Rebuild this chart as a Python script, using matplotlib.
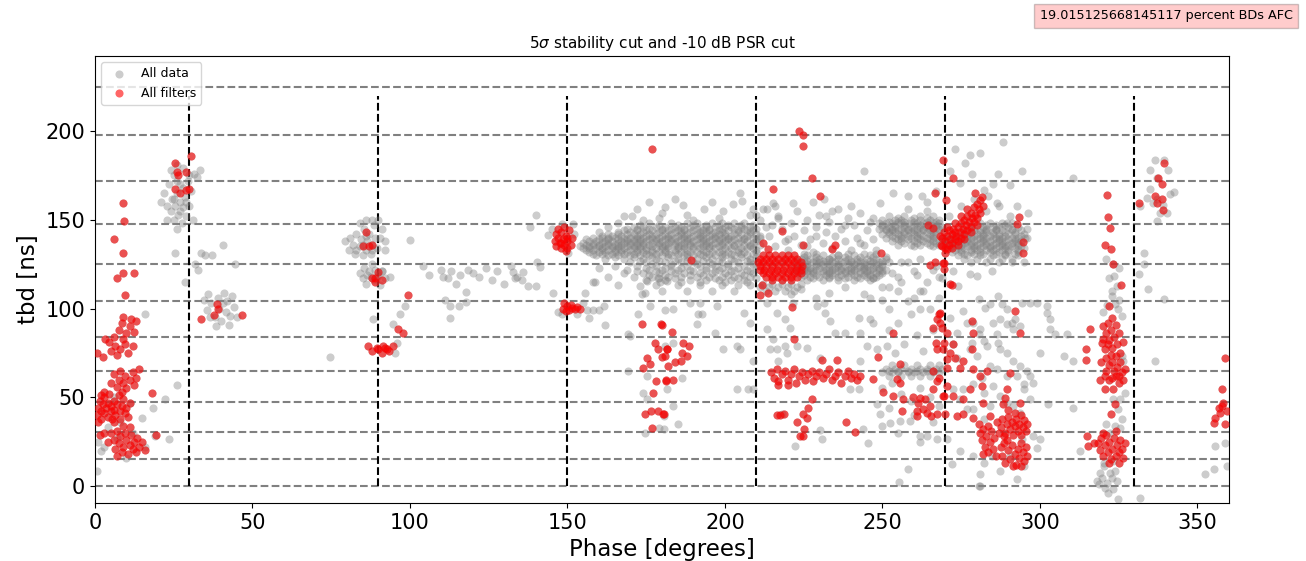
import numpy as np
import matplotlib
matplotlib.use("Agg")
import matplotlib.pyplot as plt

# ---------------------------------------------------------------------------
# Breakdown events: (phase [deg], tbd [ns])
# ---------------------------------------------------------------------------

# events that did not pass the filters
other_left = [(0.5, 8.5), (2, 19.7), (10, 16), (14.8, 38.5), (18.3, 44), (22.2, 48.8), (26, 56.7),
              (23.5, 26.3), (15.9, 97), (1, 25), (3, 22), (6, 50), (8, 36), (12, 30), (16, 22),
              (19, 28), (4, 33), (11, 47), (7, 27)]
other_25 = [(21, 160), (22, 165), (23, 158), (23.5, 170), (24, 155), (24.5, 162), (25, 150), (25, 175),
            (25.5, 158), (26, 165), (26.5, 153), (27, 160), (27, 170), (27.5, 148), (28, 157),
            (28.5, 163), (29, 152), (29.5, 172), (30, 158), (30.5, 166), (31, 150), (24, 178),
            (26, 181), (28, 179), (31.5, 176), (32.5, 174), (33.5, 178), (26, 145), (27, 155),
            (25, 162), (23, 150), (29, 160), (28, 168), (26, 172), (30, 175)]
other_40 = [(25.4, 131.4), (28.6, 115), (31.7, 125), (32.8, 122), (33.7, 131.4), (35, 130), (37.2, 130),
            (40.7, 135.6), (44.4, 125), (34.5, 105), (35.5, 99), (36, 108), (37, 103), (38, 95),
            (39, 106), (39.5, 100), (40, 93), (41, 109), (41.5, 98), (42, 104), (43, 96), (43.5, 107),
            (44, 101), (45, 95), (38.5, 90), (42.5, 91), (36.5, 95), (40.5, 103)]
other_88 = [(79.5, 138), (80.5, 133), (81, 140), (82, 136), (82.5, 131), (83, 142), (84, 135), (84.5, 139),
            (85, 130), (85.5, 145), (86, 133), (86.5, 138), (87, 142), (87.5, 131), (88, 136),
            (88.5, 147), (89, 140), (89.5, 134), (90, 150), (91, 145), (92, 138), (86, 150), (84, 148),
            (83, 133), (88, 133), (86, 141), (85, 136), (84, 120), (85, 117), (85.5, 123), (86, 114),
            (87, 121), (87.5, 118), (88, 125), (88.5, 116), (89, 122), (90, 119), (90.5, 113),
            (91, 121), (92, 117), (93.7, 118), (86.5, 119), (89.5, 118), (74.6, 72.7), (88.4, 94),
            (98.4, 101.5), (96.8, 96.8), (94.7, 91.3), (95.8, 80.7), (95.3, 75.1), (91, 121),
            (90.5, 139.9), (100, 138.4), (88, 150), (92, 133)]
other_120 = [(110, 122), (110.5, 118), (112, 117), (113, 121), (114.5, 114), (116, 119), (118.5, 122),
             (111.1, 105), (112.7, 101.5), (112.7, 94.7), (115.6, 101.5), (117.7, 103.5),
             (117.7, 109.6), (104, 124), (106, 119), (120, 120), (122, 118), (124, 123), (127.5, 121),
             (129.9, 114), (132.8, 120.5), (133.4, 117), (135.5, 116), (136, 120.5), (137.6, 112.9),
             (140, 112.9), (140.2, 126.1), (141.3, 123.2), (138.1, 146), (140, 152.5), (145.3, 108.8),
             (134, 118), (132, 124), (126, 116), (143.9, 141.3), (148.2, 147.6), (151.9, 147.6),
             (150.3, 131.5), (145, 145), (152, 142), (148.2, 96.8), (155, 103), (156.1, 99.1),
             (158, 99), (160, 99), (161.5, 101.5), (157, 94.7), (161.9, 91), (155.6, 108.8),
             (158.8, 115), (153, 97), (147, 98)]

# main dense band, tbd row -> phases
band_a_rows = {
    148: [176, 183, 188, 191, 196, 199, 203, 206],
    147: [173, 179, 185, 190, 194, 198, 201, 205, 209],
    146: [171, 174, 178, 181, 184, 186, 189, 192, 194, 197, 200, 202, 205, 208],
    145: [169, 172, 176, 180, 183, 187, 191, 195, 199, 203, 206, 210],
    144: [168, 172, 175, 177, 180, 182, 185, 187, 190, 193, 195, 198, 201, 204, 207, 209],
    143: [166, 170, 174, 179, 184, 186, 189, 192, 194, 197, 199, 204, 208],
    142: [163, 166, 169, 171, 173, 176, 178, 181, 183, 186, 188, 191, 193, 196, 198, 200, 203, 205, 208, 210],
    141: [161, 164, 167, 172, 175, 177, 180, 182, 185, 187, 190, 192, 195, 197, 200, 202, 207, 211],
    140: [158, 161, 163, 165, 168, 170, 172, 174, 177, 179, 182, 184, 187, 189, 192, 194, 197, 199, 201, 204, 206, 209, 211],
    139: [156, 160, 163, 166, 169, 171, 173, 176, 178, 181, 183, 186, 188, 191, 193, 196, 198, 201, 203, 206, 210],
    138: [157, 159, 162, 164, 167, 169, 171, 173, 175, 178, 180, 183, 185, 188, 190, 193, 195, 198, 200, 202, 205, 207, 210],
    137: [155, 158, 161, 163, 166, 168, 170, 172, 174, 177, 179, 182, 184, 187, 189, 192, 194, 197, 199, 204, 209],
    136: [156, 158, 160, 163, 165, 167, 170, 172, 174, 176, 179, 181, 184, 186, 189, 191, 194, 196, 199, 201, 203, 206, 208, 211],
    135: [154, 157, 160, 162, 164, 166, 169, 171, 173, 177, 180, 182, 185, 187, 190, 193, 195, 198, 203, 208],
    134: [155, 157, 159, 161, 164, 166, 168, 171, 173, 175, 178, 180, 182, 185, 187, 190, 192, 195, 197, 200, 202, 205, 207, 209],
    133: [156, 158, 161, 163, 165, 167, 170, 172, 175, 177, 181, 184, 188, 193, 199, 204, 210],
    132: [157, 160, 162, 165, 167, 169, 172, 174, 177, 179, 181, 184, 186, 189, 191, 194, 196, 198, 201, 204, 206, 210],
    131: [158, 161, 164, 168, 171, 175, 178, 182, 185, 188, 192, 195, 199, 202, 205, 209],
    130: [159, 163, 166, 170, 173, 176, 180, 183, 187, 190, 193, 197, 200, 203, 207],
    129: [165, 171, 177, 182, 188, 194, 199, 205, 210],
    128: [162, 168, 174, 178, 185, 191, 196, 202, 208],
    127: [173, 179, 184, 188, 193, 198, 203, 207],
    126: [170, 175, 181, 186, 190, 195, 199, 204, 208],
    125: [177, 183, 191, 196, 201, 209],
    124: [172, 178, 183, 188, 192, 197, 201, 206, 210],
    123: [175, 181, 186, 194, 199, 204],
    122: [169, 176, 180, 185, 189, 194, 198, 203, 207],
    121: [172, 178, 183, 190, 197, 202, 208],
    120: [174, 179, 184, 187, 192, 196, 200, 205, 209],
    119: [176, 181, 189, 193, 201, 206],
    118: [171, 177, 182, 186, 191, 195, 199, 203, 208],
    117: [179, 184, 197, 204, 210],
    116: [175, 181, 189, 194, 198, 202, 206],
    115: [186, 192, 200, 207],
    113: [178, 185, 192, 199, 204, 208],
    110: [180, 188, 196, 203],
}
band_b_rows = {
    131: [229, 239, 248],
    130: [226, 231, 236, 241, 246],
    129: [225, 229, 234, 238, 243, 247, 251],
    128: [224, 227, 230, 233, 236, 239, 242, 245, 248, 251],
    127: [223, 226, 229, 231, 234, 238, 240, 243, 246, 250],
    126: [223, 225, 228, 230, 232, 235, 237, 240, 242, 244, 247, 249, 252],
    125: [224, 226, 229, 231, 233, 236, 239, 241, 244, 246, 248, 250],
    124: [222, 224, 226, 229, 231, 234, 236, 238, 241, 243, 245, 248, 250],
    123: [223, 225, 227, 230, 233, 235, 237, 240, 242, 244, 247, 249],
    122: [222, 225, 227, 229, 232, 234, 237, 239, 241, 244, 246, 249, 251],
    121: [223, 224, 226, 228, 231, 233, 236, 238, 240, 243, 245, 247, 250],
    120: [223, 226, 228, 231, 233, 235, 238, 240, 243, 245, 248, 250],
    119: [225, 229, 232, 234, 237, 241, 244, 246, 249],
    118: [224, 227, 230, 233, 236, 239, 242, 245, 248],
    117: [228, 233, 238, 243, 247],
    116: [226, 231, 236, 241, 246],
    114: [212, 215, 218, 221, 224],
    112: [211, 214, 217, 220, 223],
    110: [213, 216, 219, 222],
}
band_c_rows = {
    152: [252, 257, 262, 266],
    151: [255, 260, 264],
    150: [250, 254, 256, 259, 262, 265, 268],
    149: [252, 255, 257, 260, 264, 267],
    148: [249, 251, 253, 256, 258, 261, 263, 266, 268, 281, 284, 288, 291],
    147: [250, 254, 257, 260, 262, 265, 267, 283, 286, 289],
    146: [250, 252, 254, 257, 259, 262, 264, 267, 269, 279, 282, 285, 287, 290, 293],
    145: [251, 253, 256, 258, 261, 263, 266, 268, 278, 283, 286, 291],
    144: [251, 253, 255, 258, 260, 263, 265, 268, 276, 279, 281, 283, 286, 288, 291, 294],
    143: [252, 254, 257, 259, 261, 264, 266, 277, 281, 283, 285, 289, 292],
    142: [250, 252, 255, 257, 260, 262, 265, 267, 272, 275, 278, 280, 282, 285, 287, 290, 292, 295],
    141: [253, 256, 258, 261, 263, 266, 274, 277, 279, 282, 284, 287, 289, 294],
    140: [251, 254, 256, 259, 261, 264, 266, 269, 271, 273, 276, 278, 281, 283, 286, 288, 291, 293, 296],
    139: [255, 258, 262, 265, 270, 272, 275, 277, 280, 282, 285, 287, 290, 292],
    138: [253, 256, 260, 263, 266, 268, 270, 272, 275, 277, 279, 282, 284, 287, 289, 292, 294],
    137: [257, 261, 264, 267, 271, 273, 276, 278, 281, 283, 286, 288, 291, 293],
    136: [255, 259, 262, 265, 268, 270, 273, 275, 278, 280, 283, 285, 288, 290, 293],
    135: [260, 266, 272, 274, 277, 279, 282, 284, 287, 289, 291, 294],
    134: [271, 274, 276, 279, 281, 284, 286, 289, 292, 295],
    133: [273, 275, 278, 280, 283, 285, 288, 290, 293],
    132: [272, 275, 278, 281, 284, 287, 290, 293],
    131: [276, 279, 282, 286, 289, 292],
    130: [274, 277, 281, 285, 289, 293],
    128: [276, 280, 284, 288, 291],
    126: [278, 283, 287, 291, 295],
}
band_64_rows = {
    68: [253, 257, 261, 265, 268],
    66: [251, 254, 256, 259, 262, 264, 267, 269],
    65: [252, 255, 258, 261, 264, 266],
    64: [250, 253, 255, 258, 260, 263, 266, 268],
    62: [252, 256, 259, 262, 265],
}

other_mid = [(211, 150), (213, 146), (214, 141), (216, 135), (217, 152), (218, 145), (219, 138), (220, 133),
             (221, 148), (222, 141), (223, 155), (224, 136), (225, 144), (226, 150), (227, 139),
             (228, 132), (229, 146), (230, 153), (231, 137), (232, 143), (233, 149), (234, 134),
             (235, 141), (236, 156), (237, 145), (238, 138), (239, 151), (240, 133), (241, 147),
             (242, 140), (243, 154), (244, 136), (245, 144), (246, 149), (247, 139), (248, 133),
             (249, 145), (216, 158), (228, 160), (240, 158), (233, 128), (219, 128), (236, 130),
             (244, 131), (212, 156), (225, 131), (215, 147), (220, 139), (229, 141), (238, 147),
             (243, 137), (247, 151), (226, 135), (232, 152)]
other_top = [(170.5, 152), (172, 156), (176, 160), (179, 151), (181, 157), (184, 162), (186.8, 158.1),
             (188, 153), (190, 150), (193.2, 155.9), (196, 160), (199.5, 155), (202.7, 158.7),
             (204.8, 165.3), (205.3, 160.6), (208, 153), (180, 154), (174, 150), (209, 156), (163, 146),
             (160, 143), (166, 148), (198, 151), (168, 152), (221.7, 159.6), (244, 177.5),
             (249.2, 159.6), (253.5, 165.3), (258.2, 163.4), (262.5, 163.4), (258.2, 155.9),
             (264, 155), (234, 155), (231.3, 161.5), (215.4, 159.6), (210, 152.5), (213.3, 155.9),
             (217, 151)]
other_low_170 = [(173, 112.7), (175.2, 115.5), (173.6, 108), (174.5, 109), (176.2, 101.5), (179.4, 114.7),
                 (181.5, 115.5), (178.8, 117), (180.9, 99), (169.3, 85.7), (169.8, 84.5), (169.3, 64.8),
                 (175.2, 62), (174.1, 52.6), (175.2, 48.8), (174.6, 30), (179.2, 32.8), (172.5, 96.8),
                 (158.2, 115), (163, 118), (166, 113), (165, 124), (160, 123), (168, 120)]
other_low_210 = [(213.3, 103.4), (221.7, 103.4), (216.4, 97.7), (219.1, 93.9), (220.7, 89.2),
                 (213.3, 88.3), (215.4, 82.6), (219.1, 78.9), (214.3, 77), (216.4, 77), (219.6, 75.1),
                 (217, 70.4), (222.8, 78.9), (226, 77.9), (230.2, 72.3), (229.1, 101.4), (231.3, 103.3),
                 (231.8, 97.7), (233.4, 93), (235, 86.4), (238.1, 86.4), (242.7, 94.8), (246.1, 93.9),
                 (247.1, 92), (242.9, 86.4), (245, 78.9), (248.2, 77), (251.4, 78.9), (242.9, 70.4),
                 (239.7, 54.5), (242.4, 54.5), (243.9, 31.9), (245.5, 24), (230.2, 31.5), (230.7, 26.5),
                 (222.3, 22.7), (248.2, 46), (249.2, 40.4), (252.4, 35.7), (255.6, 36.6), (258.8, 36.6),
                 (261.9, 28.2), (264, 28.2), (267.2, 26.3), (270.4, 26.3), (258.2, 9.4), (255.4, 2.3),
                 (218, 40.4), (209, 54.5), (207.4, 54.5), (203.7, 54.5), (183.6, 45.1), (185.2, 34.7),
                 (180.5, 39.4), (203.7, 79), (204.8, 77), (199.5, 77), (209, 70.4), (208, 91.7),
                 (205.9, 97.3), (197.4, 101.4), (188.9, 103.4), (191.6, 96.8), (192.6, 96.8), (191, 91.1),
                 (196.9, 86.4), (192, 103.4), (183.6, 99.6), (183.6, 80.7), (181, 79), (186.3, 61),
                 (181.5, 54.5), (180.5, 31.9), (221, 108), (224, 111), (229, 106), (233, 109), (238, 112),
                 (244, 108), (250, 105), (255, 110), (260, 106), (244, 124), (247, 117), (250, 112),
                 (253, 120), (256, 115), (258, 126), (261, 119), (263, 110), (266, 122), (269, 117),
                 (246, 106), (252, 100), (262, 100)]
other_255 = [(252, 88), (255, 92), (257, 80), (259, 97), (261, 85), (263, 76), (265, 100), (258, 104),
             (262, 110), (254, 75), (266, 88), (268, 106), (255, 118), (260, 121), (264, 115), (267, 124),
             (256, 126), (262, 128), (252, 112), (268, 118), (250, 55), (253, 58), (256, 52), (259, 48),
             (262, 55), (265, 50), (268, 45), (252, 44), (260, 40), (266, 36), (255, 30), (262, 25),
             (250, 34)]
other_280 = [(271.5, 94.8), (273.6, 86.4), (276.8, 92), (280.5, 85.4), (281, 88.3), (285.2, 92),
             (287.3, 93.9), (289.5, 91.1), (291.6, 88.3), (293.7, 90.2), (286.3, 85.4), (272.5, 79.8),
             (278.4, 80.8), (282.1, 81.7), (286.8, 80.8), (273.6, 72.3), (277.8, 77), (280, 73.2),
             (283.1, 78.9), (287.3, 77), (289.5, 75.1), (291.6, 70.4), (293.7, 67.6), (295.8, 64.8),
             (296.9, 62), (297.9, 58.2), (294.8, 57.3), (292.6, 62), (289.5, 62), (286.3, 65.7),
             (284.2, 67.6), (281.5, 61), (278.9, 57.3), (275.7, 54.5), (274.6, 48.8), (282.1, 52.6),
             (285.2, 56.3), (287.3, 50.7), (289.5, 46.9), (291.6, 45.1), (294.8, 54.5), (296.9, 48.8),
             (293.7, 41.3), (278.9, 43.2), (284.2, 45.1), (282.1, 37.6), (276.8, 43.2), (272.5, 54.5),
             (300, 75.1), (307.5, 73.2), (310.6, 70.4), (308.5, 85.4), (304.8, 85.4), (303.2, 88.3),
             (272.5, 121.1), (274.1, 112.7), (277.8, 119.2), (280, 118.3), (284.7, 121.1), (286.8, 107),
             (280.5, 105.2), (287.9, 102.3), (292.1, 93.9), (294.2, 103.3), (296.9, 103.3),
             (299, 103.3), (302.2, 101.4), (303.2, 93.9), (302.2, 97.7), (284.2, 102.3), (282.6, 100.5),
             (275.7, 98.6), (278.9, 92), (289.5, 99.5), (291, 92), (272, 12.2), (281, 6.6), (281, 0),
             (287.3, 8.5), (292.6, 3.8), (278.9, 16.9), (274.6, 19.7), (282.1, 13.1), (284.7, 16.9),
             (290.5, 16.9), (294.8, 11.3), (299, 21.6), (297.9, 28.2), (300, 26.3), (294.2, 26.3),
             (280.5, 0)]
other_280_top = [(273, 189.7), (276.2, 182.2), (277.8, 186.3), (281, 187.8), (288.4, 193.8), (278.4, 175.6),
                 (286.8, 175.6), (294.2, 177.5), (290.5, 169.4), (285.2, 170), (282.1, 167.1),
                 (283.6, 163.4), (286.3, 159.6), (274.6, 170.9), (271.5, 177.5), (310.4, 173.7),
                 (296.3, 154), (295.8, 144.6), (295.3, 139.9), (290.5, 152.1), (289.5, 148.4),
                 (292.6, 157.7), (267, 166), (264, 160), (271, 152), (275, 158), (279, 162), (283, 155),
                 (287, 158)]
other_320 = [(323.3, 125), (325.2, 122.7), (323.5, 118.3), (324.4, 112.7), (322.8, 107), (321.2, 101.8),
             (323.9, 102.3), (324.9, 99.5), (326, 73.2), (326.5, 70.4), (327, 52.6), (325.4, 48.8),
             (323.3, 48.8), (324.9, 43.2), (326, 37.6), (323.9, 33.8), (321, 34.7), (325.4, 32.8),
             (322.3, 30), (319.1, 7.5), (320.2, 11.3), (322.3, 7.5), (323.9, 8.5), (318, 2.8),
             (321.2, 1.9), (324.4, 2.8), (323.3, -1.9), (321.7, -3.8), (324.9, -7.5), (331.8, -6.6),
             (318.6, 0.9), (320.2, 13.1), (323.3, 14.1), (322.8, 4.7), (320.7, -0.9), (319.6, 4.7),
             (312.7, 19.7), (310.6, 44.1), (302.7, 46), (321, 128), (323, 110), (325, 105), (322, 117),
             (326, 96), (320, 98)]
other_338 = [(336.6, 184), (339.4, 184), (340.8, 178), (334.8, 178), (337.1, 173.7), (335, 167.5),
             (337.1, 161.5), (341.3, 164.3), (342.7, 165.6), (339.2, 158.1), (338.1, 154), (340.3, 154),
             (337.1, 149.3), (331.8, 157.7), (333.9, 162.4), (336, 159.6), (332.9, 131.5), (332.9, 125),
             (331.3, 119.2), (334.4, 110.8), (339.4, 105.2), (336.5, 70.4), (355.6, 22.5),
             (358.8, 24.4), (355.1, 9.4), (352.4, 6.6), (359.3, 11.3)]

# events that passed all filters
filt_left = [(0.5, 40), (1, 44), (1.5, 48), (2, 42), (2, 38), (2.5, 46), (3, 50), (3, 41), (3.5, 44),
             (4, 39), (4, 47), (4.5, 52), (5, 42), (5, 45), (5.5, 38), (6, 48), (6, 43), (6.5, 40),
             (7, 46), (7.5, 51), (8, 42), (8, 38), (8.5, 45), (9, 49), (9.5, 41), (10, 44), (10.5, 39),
             (11, 47), (3, 53), (1, 36), (6, 36), (2, 51), (5, 30), (6, 26), (6.5, 21), (7, 31),
             (7.5, 24), (8, 28), (8.5, 19), (9, 22), (9.5, 30), (10, 26), (10.5, 18), (11, 23),
             (11.5, 29), (12, 21), (12.5, 25), (13, 19), (13.5, 27), (14, 22), (15, 25), (7, 17),
             (9, 34), (11, 33), (16, 20), (4, 25), (3, 30), (5, 58), (6, 63), (7, 56), (7.5, 60),
             (8, 65), (9, 58), (9.5, 62), (10, 55), (11, 60), (12, 64), (12.5, 57), (13, 61), (14, 66),
             (8.5, 53), (3.2, 82.6), (4.4, 81), (5, 76), (6, 84), (6.5, 79), (7, 74), (7.5, 88), (8, 77),
             (8.5, 92), (9, 83), (9.5, 80), (10, 86), (10.5, 75), (11, 90), (11.5, 94), (12, 79),
             (12.5, 87), (13, 93), (9, 95), (8.8, 159.6), (9.3, 149.3), (6.1, 139.3), (8.8, 131.5),
             (6.9, 117.4), (8.8, 120), (12.5, 120), (9.5, 107.4), (0.5, 75), (2.6, 72.8), (18, 52.6),
             (19.4, 28.5), (1.6, 28.5)]
filt_30_100 = [(25.4, 182), (26, 177), (25.4, 167.4), (30, 167.4), (30.5, 186), (28.8, 177), (26.5, 175),
               (27, 165), (29, 167), (38.6, 102.6), (37.8, 96.5), (33.6, 94.2), (46.7, 96.5), (39, 100),
               (86.2, 143), (85.2, 135), (87.8, 136), (87, 135), (87.8, 117), (90, 120.8), (88.9, 114.7),
               (89, 117), (91, 116), (86.8, 78.9), (88, 76), (89.5, 78), (91, 75), (92, 77.5),
               (91.6, 79), (92.6, 77), (94.7, 79), (96.3, 88.3), (97.9, 86.5), (99.5, 107.4), (93.5, 76),
               (90, 77)]
filt_150 = [(146, 138), (146.5, 135), (147, 140), (147.5, 137), (148, 134), (148, 143), (148.5, 139),
            (149, 136), (149, 146), (149.5, 141), (150, 138), (150, 134), (150.5, 144), (151, 136),
            (151.5, 140), (147, 145), (146.5, 142), (149.5, 132.5), (148, 137), (150, 140),
            (148.5, 100), (149.5, 98.5), (150, 101.5), (150.5, 99), (151.5, 100.5), (152.5, 99.5),
            (154, 100), (149, 103), (151, 102), (153, 101)]
filt_180 = [(176.7, 189.7), (173.6, 91.4), (179.7, 91.4), (177.8, 80.7), (175.2, 72.3), (176.2, 68.5),
            (174.1, 66.7), (178.9, 77.3), (179.9, 72.7), (181.5, 77.3), (178.1, 59.2), (181.3, 59.2),
            (177.3, 52.6), (174.6, 40.4), (176.4, 42.3), (178.9, 42.3), (180.4, 40.4), (176.7, 32.8),
            (180, 91), (183.3, 86.7), (186.8, 80.7), (188.7, 78.8), (181.5, 77), (181, 73.2),
            (184.2, 69.8), (182, 67.6), (186.3, 75), (187.9, 73.2), (186, 70.4), (183.6, 60),
            (181.3, 59.7), (180.5, 40.4)]
blob_218_rows = {
    130: [212, 214, 216, 218, 220, 222],
    128: [211, 213, 215, 217, 219, 221, 223],
    126: [210.5, 212, 214, 216, 218, 220, 222, 224],
    124: [211, 213, 215, 217, 219, 221, 223, 224.5],
    122: [211, 212.5, 214.5, 216.5, 218.5, 220.5, 222.5, 224],
    120: [212, 214, 216, 218, 220, 222, 224],
    118: [213, 215, 217, 219, 221, 223],
    116: [215, 218, 221],
}
filt_210 = [(215.4, 167.5), (223.6, 200), (224.7, 197.6), (224.7, 191.5), (227.5, 173.7), (230.2, 163.4),
            (218, 143.7), (212.2, 137.1), (213.8, 133.7), (224.7, 135.6), (233.9, 133.7), (235, 135.6),
            (249.6, 131.5), (189.2, 127.4), (211.7, 113.1), (213.8, 109), (211.1, 107.5),
            (214.5, 64), (215.5, 61), (216.5, 66), (217, 59), (218, 63), (219, 65), (220, 60), (221, 63),
            (222, 66), (222.5, 58), (223.5, 62), (224.5, 64), (225.5, 60), (226.5, 63), (227.5, 65),
            (228, 59), (229, 62), (230, 64), (231, 61), (232, 63), (233, 66), (234, 60), (235, 62),
            (236, 64), (237, 58), (238, 62), (239, 65), (240, 61), (241, 63), (242, 60), (243, 62),
            (255.6, 68.5), (230.7, 70.8), (235.5, 70.8), (248.7, 72.7), (253.5, 86.1), (222, 83.1),
            (221.2, 101.1), (217, 57), (220, 57), (218.6, 40.4), (224.9, 40.4), (222.8, 36.1),
            (226, 38.5), (227.5, 48.8), (226.5, 44.1), (224.9, 28.2), (223.8, 28.2), (225.1, 32.3),
            (238.4, 36.1), (241.3, 30.4), (216.5, 40), (217.5, 40)]
filt_265 = [(268.1, 96.7), (267.2, 93.9), (266.2, 89.2), (268.8, 89.2), (267, 80.7), (269.3, 77),
            (270.4, 71.4), (267.2, 77), (266, 64.8), (267.8, 61), (267.2, 59.2), (270.4, 56.3),
            (266.2, 54.5), (269.3, 50.7), (269.9, 40.4), (267.2, 40.4), (260.9, 39.4), (263, 43.2),
            (265.1, 45.1), (261.4, 46.9), (259.8, 50.3), (256.6, 48.8), (253.3, 50.7), (256.1, 42.3),
            (261.9, 49.8), (263.5, 48.8), (255.6, 58.2), (250.1, 53), (247.1, 60.5), (254.5, 60.1),
            (265.3, 39.4), (264, 41.3), (260.9, 42.3), (269.3, 184), (266.8, 165.3), (270.2, 161.1),
            (264.4, 147.3), (266.2, 145.3), (268.3, 141), (270.4, 133.5), (269.9, 131.5),
            (265.1, 124.5), (266.7, 126.3), (269.3, 125.6), (271.3, 114.1)]
filt_arc = [(268.5, 136), (269, 140), (269.5, 143), (270, 134), (270, 138), (270.5, 141), (271, 136),
            (271, 144), (271.5, 139), (272, 137), (272, 142), (272.5, 145), (273, 139), (273, 143),
            (273.5, 141), (274, 138), (274, 146), (274.5, 143), (275, 140), (275, 148), (275.5, 145),
            (276, 142), (276, 150), (276.5, 147), (277, 144), (277, 152), (277.5, 149), (278, 146),
            (278, 154), (278.5, 151), (279, 149), (279, 157), (279.5, 153), (280, 151), (280, 159),
            (280.5, 156), (281, 154), (281, 161), (280, 147), (278, 143), (276, 139), (274, 136),
            (272, 134), (270.5, 146), (269, 135), (273, 148), (282, 158), (281.5, 163), (275, 152),
            (277, 156), (272.5, 173.7), (279.4, 165.1), (293.5, 151.7), (292.6, 147.4),
            (294.5, 137.5), (294.5, 131.5), (269.4, 125.8), (269.4, 122.5), (272, 113.1)]
filt_285 = [(268.3, 97.7), (268.3, 92), (270.4, 86.4), (272.5, 79.8), (269.4, 80.8), (271.5, 75.1),
            (273.1, 72.3), (275.7, 70.4), (278.4, 77), (278.9, 65.7), (274.6, 66.7), (270.4, 66.7),
            (281, 62), (283.1, 64.8), (281.5, 56.3), (277.8, 54.5), (275.7, 48.8), (272.5, 50.7),
            (269.4, 50.7), (273.6, 39.4), (275.7, 40.4), (278.9, 38.5), (282, 46.9), (290.5, 63.8),
            (293.7, 46.9), (289.5, 54.5), (288.4, 46), (284.2, 39.4), (278.4, 93), (278.9, 86.4),
            (292.1, 98.6), (293.7, 86.4), (288.9, 49.8),
            (286.5, 36), (287.5, 33), (288, 38), (289, 30), (289.5, 35), (290, 39), (290.5, 32),
            (291, 36), (291.5, 29), (292, 34), (292.5, 38), (293, 31), (293.5, 35), (294, 29),
            (294.5, 33), (295, 37), (295.5, 31), (296, 35), (288.5, 28), (292, 41), (290, 43), (294, 40),
            (287, 30), (281, 30), (281.5, 26), (282, 32), (282.5, 22), (283, 28), (283.5, 19), (284, 25),
            (284.5, 31), (285, 21), (285.5, 27), (286, 17), (282, 18), (283.5, 34), (280.5, 35),
            (287.5, 22), (288, 17), (288.5, 24), (289, 13), (290, 20), (290.5, 15), (291, 23), (292, 18),
            (292.5, 12), (293, 21), (293.5, 16), (294, 24), (294.5, 19), (295, 14), (295.5, 22),
            (296, 17), (289.5, 26), (291.5, 11), (294, 11)]
filt_323 = [(321.2, 163.8), (321.5, 151.5), (322.3, 145.5), (320.5, 135.6), (322.5, 133.7), (323.1, 125.3),
            (325.8, 113.1), (322, 101.4), (322.8, 94.8), (320, 90), (321, 86), (321.5, 92), (322, 82),
            (322.5, 88), (323, 78), (323.5, 84), (324, 91), (324.5, 80), (325, 86), (325.5, 75),
            (320.5, 77), (321, 72), (321.5, 80), (322, 68), (322.5, 74), (323, 70), (323.5, 65),
            (324, 73), (324.5, 67), (325, 62), (325.5, 70), (326, 64), (326.5, 60), (320.5, 62),
            (321, 65), (322, 60), (323, 61), (324, 62), (325, 58), (327, 66), (319.5, 70), (319, 60),
            (326.5, 81), (320, 83), (315.9, 88.6), (314.6, 77), (314.6, 70.8), (319.6, 80.8),
            (320.7, 54.5), (323.9, 46), (322.5, 40.4), (323.1, 54.5), (318.5, 24), (319, 20),
            (319.5, 27), (320, 17), (320.5, 23), (321, 29), (321.5, 19), (322, 25), (322.5, 15),
            (323, 21), (323.5, 27), (324, 17), (324.5, 23), (325, 19), (325.5, 26), (326, 21),
            (326.5, 16), (327, 24), (320, 30), (324, 31), (322, 13), (325, 13), (314.9, 28.2),
            (317.3, 24), (315.4, 22.5)]
filt_right = [(339.5, 182), (337.6, 173.7), (338.7, 170), (336.6, 163.4), (338.7, 161.5), (337.1, 159.6),
              (339, 155.5), (331.6, 159.6), (358.8, 72.3), (357.7, 54.5), (356.7, 44.1), (358.2, 46.9),
              (359.3, 42.3), (355.6, 38.5), (355.1, 35.7), (358.8, 34.7), (357.2, 41.3), (357.7, 45.1)]

# reference levels
tbd_levels = [0, 15.2, 30.5, 47.5, 65, 84, 104, 125, 147.6, 171.8, 197.7, 224.8]
phase_marks = [30, 90, 150, 210, 270, 330]
afc_fraction = 19.015125668145117


def rows_to_points(rows):
    return [(p, t) for t, phases in rows.items() for p in phases]


other_pts = (other_left + other_25 + other_40 + other_88 + other_120 + rows_to_points(band_a_rows)
             + rows_to_points(band_b_rows) + rows_to_points(band_c_rows) + rows_to_points(band_64_rows)
             + other_mid + other_top + other_low_170 + other_low_210 + other_255 + other_280
             + other_280_top + other_320 + other_338)
filt_pts = (filt_left + filt_30_100 + filt_150 + filt_180 + rows_to_points(blob_218_rows) + filt_210
            + filt_265 + filt_arc + filt_285 + filt_323 + filt_right)

all_pts = np.array(other_pts + filt_pts)
filt = np.array(filt_pts)

fig = plt.figure(figsize=(13.06, 5.61), dpi=100)
ax = fig.add_axes([0.0727, 0.1034, 0.8683, 0.7966])

ax.hlines(tbd_levels, 0, 360, colors="grey", linestyles="--", linewidth=1.5, zorder=1)
ax.vlines(phase_marks, 0, 220, colors="black", linestyles="--", linewidth=1.5, zorder=1)

ax.scatter(all_pts[:, 0], all_pts[:, 1], s=34, color="grey", alpha=0.4, linewidths=0,
           label="All data", zorder=2)
ax.scatter(filt[:, 0], filt[:, 1], s=34, color="red", alpha=0.6, linewidths=0,
           label="All filters", zorder=3)

ax.set_xlim(0, 360)
ax.set_ylim(-9.6, 242.3)
ax.set_xlabel("Phase [degrees]", fontsize=16.5)
ax.set_ylabel("tbd [ns]", fontsize=16.5)
ax.tick_params(labelsize=15)
ax.set_title(r"5$\sigma$ stability cut and -10 dB PSR cut", fontsize=11)
ax.legend(loc="upper left", fontsize=9)

fig.text(0.990, 0.9715, f"{afc_fraction} percent BDs AFC", ha="right", va="center", fontsize=9.2,
         bbox=dict(facecolor="red", alpha=0.2))

fig.savefig("out.png", dpi=100)
